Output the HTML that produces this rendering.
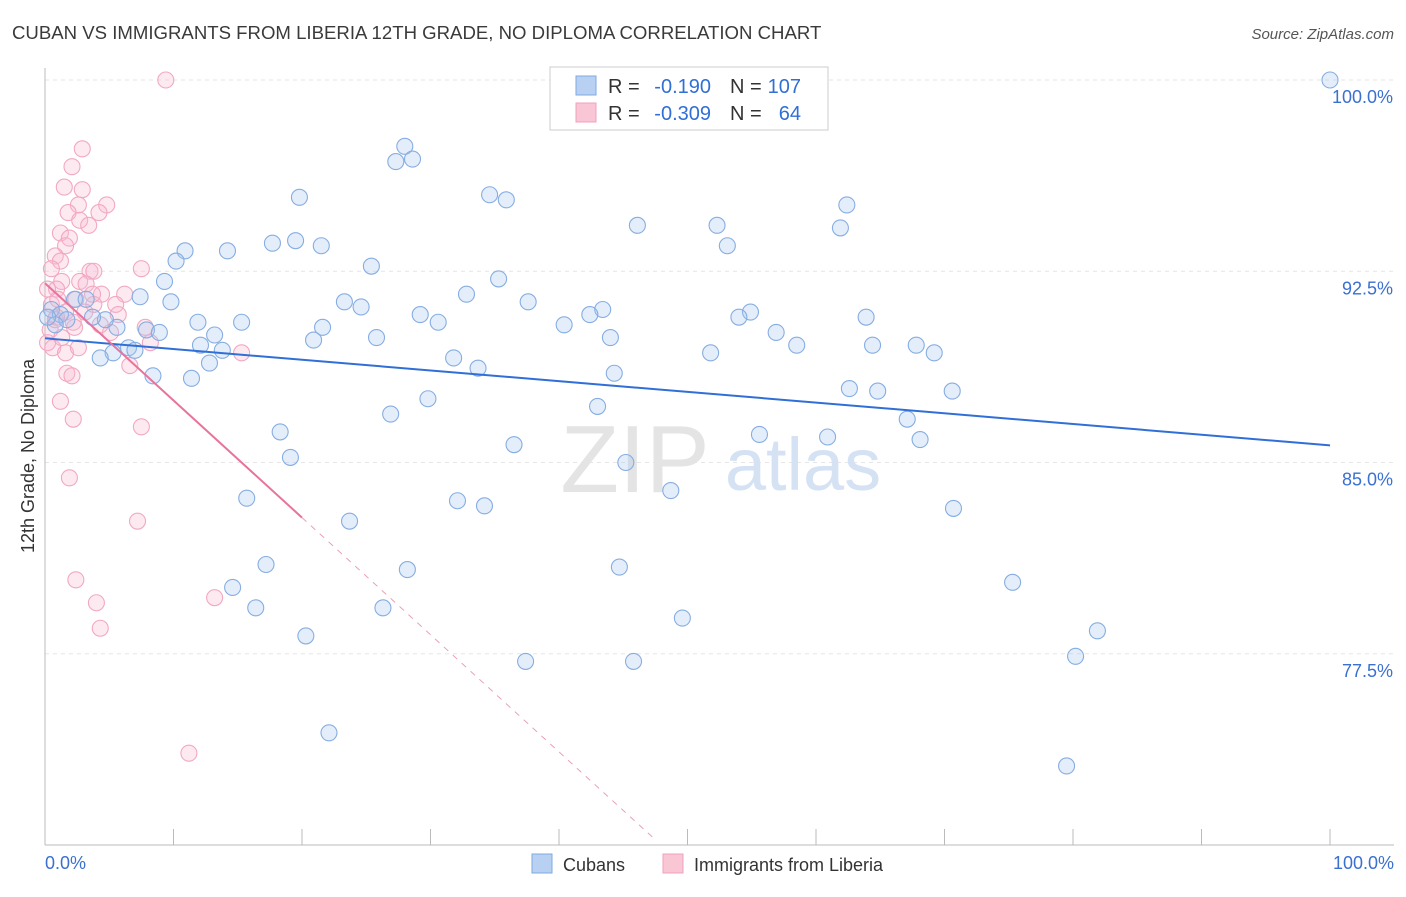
<!DOCTYPE html>
<html><head><meta charset="utf-8"><style>
body{margin:0;background:#fff;font-family:"Liberation Sans",sans-serif;}
svg text{font-family:"Liberation Sans",sans-serif;}
</style></head><body>
<svg id="chart" width="1406" height="892" viewBox="0 0 1406 892" xmlns="http://www.w3.org/2000/svg">
<text x="12" y="39" font-size="18.6" fill="#3a3a3a">CUBAN VS IMMIGRANTS FROM LIBERIA 12TH GRADE, NO DIPLOMA CORRELATION CHART</text>
<text x="1394" y="39" font-size="15" fill="#555" text-anchor="end" font-style="italic">Source: ZipAtlas.com</text>
<g id="grid"></g>
<g>
<text x="635" y="492" font-size="96" fill="#e4e4e4" text-anchor="middle" font-family="Liberation Serif,serif">ZIP</text>
<text x="803" y="490" font-size="74" fill="#d4e2f4" text-anchor="middle">atlas</text>
</g>
<line x1="45" y1="68" x2="45" y2="845" stroke="#bbb"/>
<line x1="45" y1="845" x2="1394" y2="845" stroke="#bbb"/>
<g id="xticks"></g>
<g id="ylabels"></g>
<text x="45" y="869" font-size="18" fill="#3a70d0">0.0%</text>
<text x="1394" y="869" font-size="18" fill="#3a70d0" text-anchor="end">100.0%</text>
<text transform="translate(34,456) rotate(-90)" font-size="18" fill="#333" text-anchor="middle">12th Grade, No Diploma</text>
<g id="pinkpts"></g>
<g id="bluepts"></g>
<g id="trends"></g>
<g>
<rect x="550" y="67" width="278" height="63" fill="#fff" stroke="#ccc"/>
<rect x="576" y="76" width="20" height="19" fill="#b8d0f2" stroke="#7fa9e0"/>
<rect x="576" y="103" width="20" height="19" fill="#f9c6d6" stroke="#f0a0bc"/>
<text x="608" y="93" font-size="20" fill="#333">R =</text>
<text x="711" y="93" font-size="20" fill="#2f6fd6" text-anchor="end">-0.190</text>
<text x="730" y="93" font-size="20" fill="#333">N =</text>
<text x="801" y="93" font-size="20" fill="#2f6fd6" text-anchor="end">107</text>
<text x="608" y="120" font-size="20" fill="#333">R =</text>
<text x="711" y="120" font-size="20" fill="#2f6fd6" text-anchor="end">-0.309</text>
<text x="730" y="120" font-size="20" fill="#333">N =</text>
<text x="801" y="120" font-size="20" fill="#2f6fd6" text-anchor="end">64</text>
</g>
<g>
<rect x="532" y="854" width="20" height="19" fill="#b8d0f2" stroke="#7fa9e0"/>
<text x="563" y="871" font-size="18" fill="#333">Cubans</text>
<rect x="663" y="854" width="20" height="19" fill="#f9c6d6" stroke="#f0a0bc"/>
<text x="694" y="871" font-size="18" fill="#333">Immigrants from Liberia</text>
</g>
</svg>
<script>
const yTicks=[100,92.5,85,77.5];
const yTickLabels=["100.0%","92.5%","85.0%","77.5%"];
const xTicks=[0,10,20,30,40,50,60,70,80,90,100];
const cubanX=[100,28.0,27.3,28.6,19.8,34.6,35.9,62.4,46.1,52.3,61.9,53.1,17.7,19.5,21.5,10.9,14.2,10.2,25.4,35.3,9.3,32.8,37.6,7.4,9.8,2.3,3.2,23.3,24.6,43.4,42.4,54.9,54.0,63.9,29.2,30.6,40.4,15.3,11.9,21.6,5.6,4.7,3.7,7.9,8.9,13.2,44.0,56.9,25.8,20.9,12.1,58.5,64.4,67.8,69.2,13.8,51.8,6.5,7.0,5.3,4.3,31.8,33.7,12.8,44.3,8.4,11.4,62.6,64.8,70.6,29.8,26.9,43.0,67.1,18.3,55.6,60.9,68.1,36.5,19.1,45.2,48.7,15.7,32.1,34.2,70.7,23.7,17.2,28.2,44.7,14.6,75.3,16.4,26.3,49.6,81.9,20.3,37.4,45.8,80.2,22.1,79.5,0.5,1.2,1.7,0.8,0.2];
const cubanY=[100,97.4,96.8,96.9,95.4,95.5,95.3,95.1,94.3,94.3,94.2,93.5,93.6,93.7,93.5,93.3,93.3,92.9,92.7,92.2,92.1,91.6,91.3,91.5,91.3,91.4,91.4,91.3,91.1,91.0,90.8,90.9,90.7,90.7,90.8,90.5,90.4,90.5,90.5,90.3,90.3,90.6,90.7,90.2,90.1,90.0,89.9,90.1,89.9,89.8,89.6,89.6,89.6,89.6,89.3,89.4,89.3,89.5,89.4,89.3,89.1,89.1,88.7,88.9,88.5,88.4,88.3,87.9,87.8,87.8,87.5,86.9,87.2,86.7,86.2,86.1,86.0,85.9,85.7,85.2,85.0,83.9,83.6,83.5,83.3,83.2,82.7,81.0,80.8,80.9,80.1,80.3,79.3,79.3,78.9,78.4,78.2,77.2,77.2,77.4,74.4,73.1,91.0,90.8,90.6,90.4,90.7];
const liberiaX=[9.4,2.9,2.1,1.5,2.9,2.6,4.8,1.8,4.2,2.7,3.4,1.2,1.9,1.6,0.8,1.2,0.5,3.5,7.5,3.8,1.3,2.7,3.2,0.9,4.4,6.2,5.5,3.8,0.5,1.6,0.9,2.2,7.8,5.1,8.2,0.2,0.6,1.6,2.6,15.3,6.6,1.7,2.1,1.2,2.2,7.5,1.9,7.2,2.4,4.0,13.2,4.3,11.2,0.4,1.0,4.3,2.3,1.3,3.1,0.2,0.8,3.7,5.7,2.4];
const liberiaY=[100,97.3,96.6,95.8,95.7,95.1,95.1,94.8,94.8,94.5,94.3,94.0,93.8,93.5,93.1,92.9,92.6,92.5,92.6,92.5,92.1,92.1,92.0,91.8,91.6,91.6,91.2,91.2,91.2,90.9,90.7,90.5,90.3,90.1,89.7,89.7,89.5,89.3,89.5,89.3,88.8,88.5,88.4,87.4,86.7,86.4,84.4,82.7,80.4,79.5,79.7,78.5,73.6,90.2,91.4,90.4,90.3,89.9,90.9,91.8,90.6,91.6,90.8,91.4];
const cubanTrend=[[0,89.87],[100,85.67]];
const liberiaTrendSolid=[[0,92.03],[20,82.84]];
const liberiaTrendDash=[[20,82.84],[47.6,70.16]];

const NS="http://www.w3.org/2000/svg";
const X0=45,X1=1330,YTOP=80,YMIN=70,YMAX=100,YBOT=845;
function sx(v){return X0+(v/100)*(X1-X0);}
function sy(v){return YTOP+(YMAX-v)/(YMAX-YMIN)*(YBOT-YTOP);}
function mk(tag,attrs,parent){const e=document.createElementNS(NS,tag);for(const k in attrs)e.setAttribute(k,attrs[k]);parent.appendChild(e);return e;}
const grid=document.getElementById('grid'),yl=document.getElementById('ylabels');
yTicks.forEach((t,i)=>{
  const l=mk('line',{x1:45,x2:1394,y1:sy(t),y2:sy(t),stroke:'#e6e6e6','stroke-dasharray':'4,4'},grid);
  
  
  const tx=mk('text',{x:1393,y:sy(t)+23,'font-size':18,fill:'#3a70d0','text-anchor':'end'},yl);
  tx.textContent=yTickLabels[i];
  
  
});
const xt=document.getElementById('xticks');
xTicks.forEach(t=>{
  const l=mk('line',{x1:sx(t),x2:sx(t),y1:829,y2:845,stroke:'#bbb'},xt);
  
  
});
function pts(xs,ys,g,stroke,fill,name){
  xs.forEach((x,i)=>{
    const c=mk('circle',{cx:sx(x),cy:sy(ys[i]),r:8,fill:fill,stroke:stroke,'stroke-width':1.1},g);
    
    
  });
}
pts(liberiaX,liberiaY,document.getElementById('pinkpts'),'#f2a8c2','rgba(248,185,208,0.3)','liberia-point');
pts(cubanX,cubanY,document.getElementById('bluepts'),'#86ade2','rgba(165,198,240,0.3)','cuban-point');
const tr=document.getElementById('trends');
function line(p,stroke,w,dash,name){
  const l=mk('line',{x1:sx(p[0][0]),y1:sy(p[0][1]),x2:sx(p[1][0]),y2:sy(p[1][1]),stroke:stroke,'stroke-width':w},tr);
  if(dash)l.setAttribute('stroke-dasharray',dash);
  
  
}
line(cubanTrend,'#2f6fd6',2,null,'cubans-trend-line');
line(liberiaTrendSolid,'#e8739c',2,null,'liberia-trend-line');
line(liberiaTrendDash,'#eaa0b8',1,'6,6','liberia-trend-extension');
</script>
</body></html>
